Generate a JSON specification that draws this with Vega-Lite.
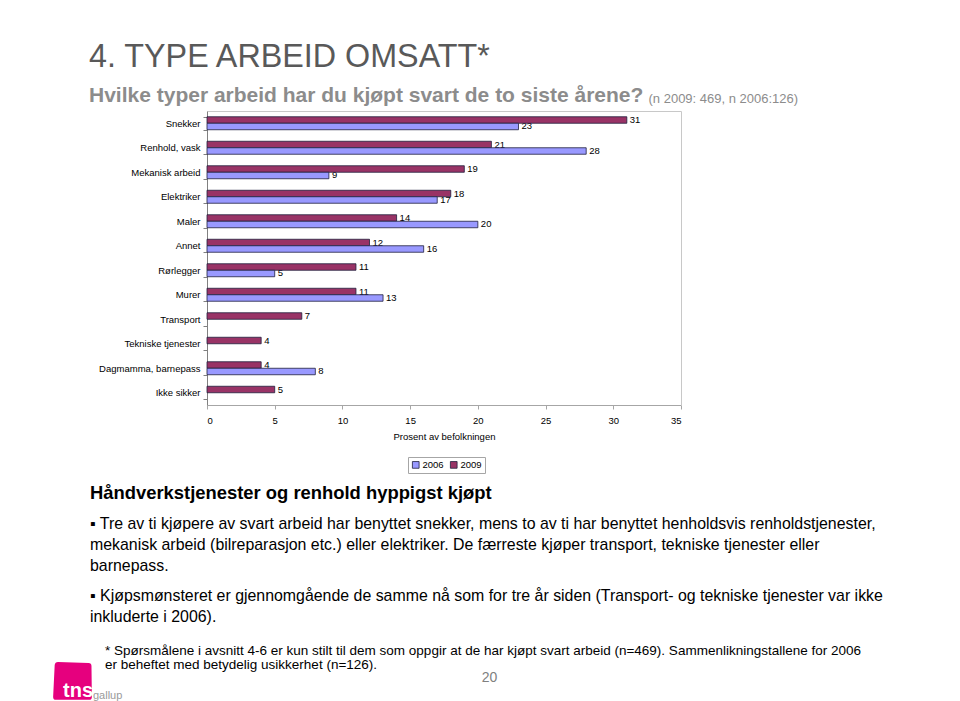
{
  "$schema": "https://vega.github.io/schema/vega-lite/v6.json",
  "background": "white",
  "padding": {"left": 53, "top": 40, "right": 5, "bottom": 0},
  "config": {
    "font": "Liberation Sans",
    "view": {"stroke": null}
  },
  "bounds": "flush",
  "spacing": 0,
  "resolve": {"scale": {"color": "independent"}, "legend": {"color": "independent"}},
  "vconcat": [
    {
      "width": 474,
      "height": 294,
      "title": {
        "text": "4. TYPE ARBEID OMSATT*",
        "subtitle": "Hvilke typer arbeid har du kjøpt svart de to siste årene?",
        "anchor": "start",
        "frame": "group",
        "dx": -118,
        "offset": -14,
        "font": "Liberation Sans",
        "fontSize": 32.3,
        "fontWeight": "normal",
        "color": "#595959",
        "subtitleFont": "Liberation Sans",
        "subtitleFontSize": 21,
        "subtitleFontWeight": "bold",
        "subtitleColor": "#8c8c8c",
        "subtitlePadding": 12
      },
      "data": {
        "values": [
          {"type": "Snekker", "year": "2009", "value": 31},
          {"type": "Snekker", "year": "2006", "value": 23},
          {"type": "Renhold, vask", "year": "2009", "value": 21},
          {"type": "Renhold, vask", "year": "2006", "value": 28},
          {"type": "Mekanisk arbeid", "year": "2009", "value": 19},
          {"type": "Mekanisk arbeid", "year": "2006", "value": 9},
          {"type": "Elektriker", "year": "2009", "value": 18},
          {"type": "Elektriker", "year": "2006", "value": 17},
          {"type": "Maler", "year": "2009", "value": 14},
          {"type": "Maler", "year": "2006", "value": 20},
          {"type": "Annet", "year": "2009", "value": 12},
          {"type": "Annet", "year": "2006", "value": 16},
          {"type": "Rørlegger", "year": "2009", "value": 11},
          {"type": "Rørlegger", "year": "2006", "value": 5},
          {"type": "Murer", "year": "2009", "value": 11},
          {"type": "Murer", "year": "2006", "value": 13},
          {"type": "Transport", "year": "2009", "value": 7},
          {"type": "Tekniske tjenester", "year": "2009", "value": 4},
          {"type": "Dagmamma, barnepass", "year": "2009", "value": 4},
          {"type": "Dagmamma, barnepass", "year": "2006", "value": 8},
          {"type": "Ikke sikker", "year": "2009", "value": 5}
        ]
      },
      "encoding": {
        "y": {
          "field": "type",
          "type": "nominal",
          "sort": ["Snekker", "Renhold, vask", "Mekanisk arbeid", "Elektriker", "Maler", "Annet", "Rørlegger", "Murer", "Transport", "Tekniske tjenester", "Dagmamma, barnepass", "Ikke sikker"],
          "scale": {"paddingInner": 0.47, "paddingOuter": 0.235}
        },
        "yOffset": {
          "field": "year",
          "type": "nominal",
          "scale": {"domain": ["2009", "2006"], "paddingInner": 0, "paddingOuter": 0}
        },
        "x": {
          "field": "value",
          "type": "quantitative",
          "scale": {"domain": [0, 35], "nice": false}
        }
      },
      "layer": [
        {
          "mark": {"type": "text", "align": "left", "baseline": "middle", "dx": 3, "fontSize": 9.5, "color": "black"},
          "encoding": {
            "text": {"field": "value", "type": "quantitative"},
            "y": {
              "field": "type",
              "type": "nominal",
              "sort": ["Snekker", "Renhold, vask", "Mekanisk arbeid", "Elektriker", "Maler", "Annet", "Rørlegger", "Murer", "Transport", "Tekniske tjenester", "Dagmamma, barnepass", "Ikke sikker"],
              "axis": {
                "orient": "left",
                "title": null,
                "domainColor": "#808080",
                "tickColor": "#808080",
                "tickBand": "extent",
                "tickSize": 4,
                "labelFontSize": 9.5,
                "labelColor": "black",
                "labelPadding": 3
              }
            },
            "x": {
              "field": "value",
              "type": "quantitative",
              "axis": {
                "orient": "bottom",
                "title": "Prosent av befolkningen",
                "values": [0, 5, 10, 15, 20, 25, 30, 35],
                "grid": false,
                "domainColor": "#a6a6a6",
                "tickColor": "#a6a6a6",
                "tickSize": 4,
                "labelFontSize": 9.5,
                "labelColor": "black",
                "labelPadding": 6,
                "titleFontSize": 9.5,
                "titleFontWeight": "normal",
                "titleColor": "black",
                "titlePadding": 7
              }
            }
          }
        },
        {
          "mark": {"type": "bar", "stroke": "#1f1f3d", "strokeWidth": 0.8},
          "encoding": {
            "y": {
              "field": "type",
              "type": "nominal",
              "sort": ["Snekker", "Renhold, vask", "Mekanisk arbeid", "Elektriker", "Maler", "Annet", "Rørlegger", "Murer", "Transport", "Tekniske tjenester", "Dagmamma, barnepass", "Ikke sikker"],
              "axis": {
                "orient": "right",
                "title": "(n 2009: 469, n 2006:126)",
                "titleAngle": 0,
                "titleX": -33,
                "titleY": -9,
                "titleAlign": "left",
                "titleBaseline": "alphabetic",
                "titleFontSize": 13,
                "titleFontWeight": "normal",
                "titleColor": "#8c8c8c",
                "domainColor": "#c8c8c8",
                "ticks": false,
                "labels": false
              }
            },
            "x": {
              "field": "value",
              "type": "quantitative",
              "axis": {
                "orient": "top",
                "title": null,
                "grid": false,
                "domainColor": "#c8c8c8",
                "ticks": false,
                "labels": false
              }
            },
            "color": {
              "field": "year",
              "type": "nominal",
              "scale": {"domain": ["2006", "2009"], "range": ["#9999ff", "#993366"]},
              "legend": {
                "orient": "none",
                "legendX": 201,
                "legendY": 346,
                "direction": "horizontal",
                "title": null,
                "labelFontSize": 9.5,
                "labelColor": "black",
                "labelOffset": 2,
                "symbolType": "square",
                "symbolSize": 45,
                "symbolStrokeColor": "#1f1f3d",
                "symbolStrokeWidth": 0.8,
                "strokeColor": "#a6a6a6",
                "padding": 3,
                "columnPadding": 4
              }
            }
          }
        }
      ],
      "resolve": {"axis": {"x": "independent", "y": "independent"}}
    },
    {
      "width": 474,
      "height": 79,
      "data": {"values": [{"t": ""}]},
      "mark": {"type": "text"},
      "encoding": {"text": {"field": "t", "type": "nominal"}},
      "title": {
        "text": "Håndverkstjenester og renhold hyppigst kjøpt",
        "subtitle": [
          "▪ Tre av ti kjøpere av svart arbeid har benyttet snekker, mens to av ti har benyttet henholdsvis renholdstjenester,",
          "mekanisk arbeid (bilreparasjon etc.) eller elektriker. De færreste kjøper transport, tekniske tjenester eller",
          "barnepass."
        ],
        "orient": "bottom",
        "anchor": "start",
        "frame": "group",
        "dx": -117,
        "offset": 0,
        "font": "Liberation Sans",
        "fontSize": 18.4,
        "fontWeight": "bold",
        "color": "black",
        "subtitleFont": "Liberation Sans",
        "subtitleFontSize": 15.9,
        "subtitleColor": "black",
        "subtitleLineHeight": 21,
        "subtitlePadding": 14
      }
    },
    {
      "width": 474,
      "height": 104,
      "data": {"values": [{"t": ""}]},
      "mark": {"type": "text"},
      "encoding": {"text": {"field": "t", "type": "nominal"}},
      "title": {
        "text": [
          "▪ Kjøpsmønsteret er gjennomgående de samme nå som for tre år siden (Transport- og tekniske tjenester var ikke",
          "inkluderte i 2006)."
        ],
        "subtitle": [
          "\u200b\u00a0\u00a0\u00a0\u00a0* Spørsmålene  i avsnitt 4-6 er kun stilt til dem som oppgir at de har kjøpt svart arbeid (n=469). Sammenlikningstallene for 2006",
          "\u200b\u00a0\u00a0\u00a0\u00a0er beheftet med betydelig usikkerhet (n=126)."
        ],
        "orient": "bottom",
        "anchor": "start",
        "frame": "group",
        "dx": -117,
        "offset": 0,
        "font": "Liberation Sans",
        "fontSize": 15.9,
        "fontWeight": "normal",
        "color": "black",
        "lineHeight": 21,
        "subtitleFont": "Liberation Sans",
        "subtitleFontSize": 13.5,
        "subtitleColor": "black",
        "subtitleLineHeight": 14.5,
        "subtitlePadding": 19
      }
    },
    {
      "width": 474,
      "height": 84,
      "data": {"values": [{"t": "", "brand": "tns"}]},
      "mark": {"type": "text"},
      "encoding": {
        "text": {"field": "t", "type": "nominal"},
        "x": {
          "field": "brand",
          "type": "nominal",
          "axis": {
            "orient": "bottom",
            "title": "20",
            "domain": false,
            "ticks": false,
            "labels": false,
            "titleX": 282,
            "titleY": 9,
            "titleAlign": "center",
            "titleBaseline": "alphabetic",
            "titleFont": "Liberation Sans",
            "titleFontSize": 14,
            "titleFontWeight": "normal",
            "titleColor": "#808080"
          }
        },
        "color": {
          "field": "brand",
          "type": "nominal",
          "scale": {"range": ["#e6007e"]},
          "legend": {
            "orient": "none",
            "legendX": -154,
            "legendY": 73,
            "direction": "vertical",
            "title": "gallup",
            "titleOrient": "right",
            "titleAnchor": "end",
            "titleBaseline": "bottom",
            "titleColor": "#9a9a9a",
            "titleFontSize": 11,
            "titleFontWeight": "normal",
            "titlePadding": 0,
            "symbolType": "M -0.75 -0.95 Q -0.9 -0.95 -0.92 -0.8 L -1 0.85 Q -1 1 -0.85 1 L 0.85 1 Q 1 1 1 0.85 L 0.98 -0.75 Q 0.98 -0.9 0.83 -0.9 Z",
            "symbolSize": 1500,
            "symbolStrokeWidth": 0,
            "symbolOpacity": 1,
            "labelColor": "white",
            "labelFontSize": 20,
            "labelFontWeight": "bold",
            "labelOffset": -29,
            "labelBaseline": "top",
            "padding": 0
          }
        }
      }
    }
  ]
}
